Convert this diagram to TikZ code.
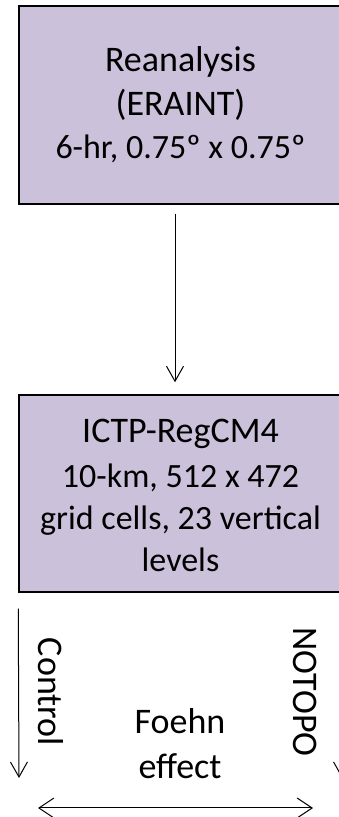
\documentclass[tikz,border=0pt]{standalone}
\usepackage{fontspec}
\setmainfont{Carlito}
\usetikzlibrary{arrows.meta}

\definecolor{lavender}{RGB}{204,193,218}

\tikzset{
	simbox/.style={draw=black, line width=1.5pt, fill=lavender, minimum width=323pt,
		inner sep=0pt, align=center},
	flow/.style={-{Straight Barb[length=15pt,width=17pt]}, line width=1pt},
	both/.style={{Straight Barb[length=15pt,width=20pt]}-{Straight Barb[length=15pt,width=20pt]}, line width=1pt},
	runlabel/.style={font=\fontsize{36}{44}\selectfont, inner sep=0pt, rotate=-90},
}
\newcommand{\detail}[1]{{\fontsize{34}{42}\selectfont #1}}

\begin{document}
\begin{tikzpicture}[x=1pt,y=1pt]

\useasboundingbox (0,0) rectangle (339,817);
\clip (0,0) rectangle (339,817);

% the two boxes
\node[simbox, minimum height=198pt, font=\fontsize{36}{44}\selectfont] (rean) at (180.5,712)
	{Reanalysis\\(ERAINT)\\[-1pt]\detail{6-hr, 0.75º x 0.75º}};
\node[simbox, minimum height=197pt, font=\fontsize{36}{42}\selectfont] (regcm) at (180.5,323.5)
	{\rule{0pt}{28pt}ICTP-RegCM4\\[3pt]\detail{10-km, 512 x 472}\\\detail{grid cells, 23 vertical}\\\detail{levels}};
\draw[flow, shorten <=9pt, shorten >=12pt] ([xshift=-5.5pt]rean.south) -- ([xshift=-5.5pt]regcm.north);

% the two runs
\coordinate (ctrlend) at (19,39);
\coordinate (notoend) at (342,39);
\draw[flow] ([yshift=-16pt]regcm.south west) -- (ctrlend);
\draw[flow] ([yshift=-16pt]regcm.south east) -- (notoend);
\node[runlabel] (ctrl) at (51,125) {Control};
\node[runlabel] (noto) at (305,125) {NOTOPO};

% difference
\node[font=\fontsize{36}{45}\selectfont, align=center, inner sep=0pt] (foehn) at (180,73) {Foehn\\effect};
\coordinate (diffl) at (38,9);
\coordinate (diffr) at (313,9);
\draw[both] (diffl) -- (diffr);

\end{tikzpicture}
\end{document}
